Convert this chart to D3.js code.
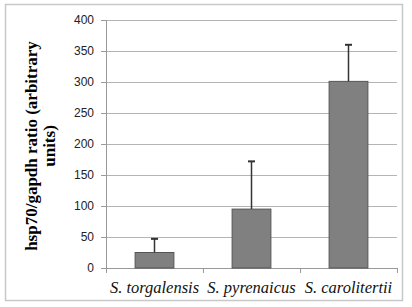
<!DOCTYPE html>
<html>
<head>
<meta charset="utf-8">
<script src="https://cdn.jsdelivr.net/npm/d3@7"></script>
<style>
  body { margin: 0; background: #fff; }
</style>
</head>
<body>
<div id="chart"></div>
<script>
let species = ["S. torgalensis", "S. pyrenaicus", "S. carolitertii"];
let ratio = [25, 95, 301];
let errUp = [22, 77, 59];
let yTicks = [0, 50, 100, 150, 200, 250, 300, 350, 400];

let W = 412, H = 307;
let margin = {top: 20, right: 15, bottom: 39, left: 106},
    width = 397 - margin.left,
    height = 268 - margin.top;

let svg = d3.select("#chart")
    .append("svg")
    .attr("width", W)
    .attr("height", H);

// outer frame
svg.append("rect")
    .attr("x", 5.5).attr("y", 4.5)
    .attr("width", 397).attr("height", 296)
    .attr("fill", "#fff")
    .attr("stroke", "#c8c8c8")
    .attr("stroke-width", 1.5);

let g = svg.append("g")
    .attr("transform", "translate(" + margin.left + "," + margin.top + ")");

let x = d3.scaleBand()
    .domain(species)
    .range([0, width])
    .paddingInner(0.6)
    .paddingOuter(0.3);

let xEdge = d3.scalePoint()
    .domain(d3.range(species.length + 1))
    .range([0, width]);

let y = d3.scaleLinear()
    .domain([0, 400])
    .range([height, 0]);

// gridlines
g.append("g")
    .selectAll("line")
    .data(yTicks.filter(function (d) { return d > 0; }))
    .enter()
    .append("line")
    .attr("x1", 0)
    .attr("x2", width)
    .attr("y1", function (d) { return Math.round(y(d)) + 0.5; })
    .attr("y2", function (d) { return Math.round(y(d)) + 0.5; })
    .attr("stroke", "#b4b4b4")
    .attr("stroke-width", 1);

// y axis
let yAxis = g.append("g")
    .call(d3.axisLeft(y).tickValues(yTicks).tickSize(5).tickPadding(7));
yAxis.select(".domain").attr("stroke", "#999");
yAxis.selectAll(".tick line").attr("stroke", "#999");
yAxis.selectAll("text")
    .attr("fill", "#222")
    .style("font-family", "'Liberation Sans', Arial, sans-serif")
    .style("font-size", "12px");

// x axis line + category separators
g.append("line")
    .attr("x1", 0).attr("x2", width)
    .attr("y1", height + 0.5).attr("y2", height + 0.5)
    .attr("stroke", "#999");
g.append("g")
    .selectAll("line")
    .data(d3.range(species.length + 1))
    .enter()
    .append("line")
    .attr("x1", function (d) { return Math.round(xEdge(d)) + 0.5; })
    .attr("x2", function (d) { return Math.round(xEdge(d)) + 0.5; })
    .attr("y1", height)
    .attr("y2", height + 5)
    .attr("stroke", "#999");

// bars
g.selectAll("rect.bar")
    .data(species)
    .enter()
    .append("rect")
    .attr("class", "bar")
    .attr("x", function (d) { return x(d); })
    .attr("y", function (d, i) { return y(ratio[i]); })
    .attr("width", x.bandwidth())
    .attr("height", function (d, i) { return height - y(ratio[i]); })
    .attr("fill", "#808080")
    .attr("stroke", "#555")
    .attr("stroke-width", 1);

// error bars (upper only)
let eb = g.selectAll("g.err")
    .data(species)
    .enter()
    .append("g")
    .attr("class", "err");
eb.append("line")
    .attr("x1", function (d) { return x(d) + x.bandwidth() / 2; })
    .attr("x2", function (d) { return x(d) + x.bandwidth() / 2; })
    .attr("y1", function (d, i) { return y(ratio[i]); })
    .attr("y2", function (d, i) { return y(ratio[i] + errUp[i]); })
    .attr("stroke", "#333")
    .attr("stroke-width", 1.5);
eb.append("line")
    .attr("x1", function (d) { return x(d) + x.bandwidth() / 2 - 3.5; })
    .attr("x2", function (d) { return x(d) + x.bandwidth() / 2 + 3.5; })
    .attr("y1", function (d, i) { return y(ratio[i] + errUp[i]); })
    .attr("y2", function (d, i) { return y(ratio[i] + errUp[i]); })
    .attr("stroke", "#333")
    .attr("stroke-width", 2);

// category labels
g.selectAll("text.cat")
    .data(species)
    .enter()
    .append("text")
    .attr("class", "cat")
    .attr("x", function (d) { return x(d) + x.bandwidth() / 2; })
    .attr("y", height + 25)
    .attr("text-anchor", "middle")
    .attr("fill", "#111")
    .style("font-family", "'Liberation Serif', 'Times New Roman', serif")
    .style("font-style", "italic")
    .style("font-size", "16.5px")
    .text(function (d) { return d; });

// y title
let title = svg.append("text")
    .attr("transform", "translate(37,146) rotate(-90)")
    .attr("text-anchor", "middle")
    .attr("fill", "#000")
    .style("font-family", "'Liberation Serif', 'Times New Roman', serif")
    .style("font-weight", "bold")
    .style("font-size", "17px");
title.append("tspan").attr("x", 0).attr("dy", 0).text("hsp70/gapdh ratio (arbitrary");
title.append("tspan").attr("x", 0).attr("dy", "1.05em").text("units)");
</script>
</body>
</html>
